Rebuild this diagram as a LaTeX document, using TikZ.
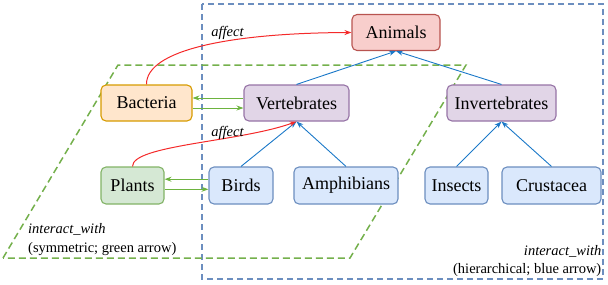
\documentclass[tikz,border=0pt]{standalone}
\usepackage{fontspec}
\setmainfont{Liberation Serif}
\usetikzlibrary{arrows.meta}
\definecolor{redfill}{HTML}{F8CECC}\definecolor{redline}{HTML}{B85450}
\definecolor{orfill}{HTML}{FFE6CC}\definecolor{orline}{HTML}{D79B00}
\definecolor{pufill}{HTML}{E1D5E7}\definecolor{puline}{HTML}{9673A6}
\definecolor{grfill}{HTML}{D5E8D4}\definecolor{grline}{HTML}{82B366}
\definecolor{blfill}{HTML}{DAE8FC}\definecolor{blline}{HTML}{6C8EBF}
\definecolor{garr}{HTML}{6DB33F}\definecolor{barr}{HTML}{1A78C8}\definecolor{rarr}{HTML}{F42A2A}
\definecolor{gdash}{HTML}{74B04C}
\tikzset{
  box/.style={rounded corners=5pt,line width=1.1pt,inner sep=0pt,minimum height=36pt,font=\fontsize{18}{20}\selectfont},
  redbox/.style={box,fill=redfill,draw=redline},
  orbox/.style={box,fill=orfill,draw=orline},
  pubox/.style={box,fill=pufill,draw=puline},
  grbox/.style={box,fill=grfill,draw=grline},
  blbox/.style={box,fill=blfill,draw=blline},
  tip/.style={-{Stealth[length=7pt,width=5pt]}},
  garrow/.style={tip,draw=garr,line width=0.9pt},
  barrow/.style={tip,draw=barr,line width=0.9pt},
  rarrow/.style={tip,draw=rarr,line width=1pt},
  lab/.style={inner sep=0pt,font=\fontsize{14.5}{16}\selectfont},
  ilab/.style={lab,font=\fontsize{14.5}{16}\selectfont\itshape},
}
\begin{document}
\begin{tikzpicture}[x=1pt,y=-1pt]
\useasboundingbox (0,0) rectangle (608,284);
% regions
\draw[blline,line width=1.5pt,dash pattern=on 6pt off 4pt] (202,4) rectangle (603,279);
\draw[gdash,line width=1.5pt,dash pattern=on 7pt off 4pt] (3,258) -- (118,65) -- (466,65) -- (350,258) -- cycle;
% nodes
\node[redbox,minimum width=88pt] (ani) at (396,32.5) {Animals};
\node[orbox,minimum width=91pt] (bac) at (146.5,103) {Bacteria};
\node[pubox,minimum width=105pt] (ver) at (296.5,103) {Vertebrates};
\node[pubox,minimum width=109pt] (inv) at (501.5,103) {Invertebrates};
\node[grbox,minimum width=63pt,minimum height=37pt] (pla) at (132.5,185.5) {Plants};
\node[blbox,minimum width=64pt,minimum height=37pt] (bir) at (241,185.5) {Birds};
\node[blbox,minimum width=104pt,minimum height=37pt] (amp) at (346,185.5) {Amphibians};
\node[blbox,minimum width=63pt,minimum height=37pt] (ins) at (456.5,185.5) {Insects};
\node[blbox,minimum width=99pt,minimum height=37pt] (cru) at (551.5,185.5) {Crustacea};
% hierarchical arrows
\draw[barrow] (ver.north) -- (ani.south);
\draw[barrow] (inv.north) -- (ani.south);
\draw[barrow] (bir.north) -- (ver.south);
\draw[barrow] (amp.north) -- (ver.south);
\draw[barrow] (ins.north) -- (inv.south);
\draw[barrow] (cru.north) -- (inv.south);
% symmetric arrows
\draw[garrow] ([yshift=5pt]ver.west) -- ([yshift=5pt]bac.east);
\draw[garrow] ([yshift=-5pt]bac.east) -- ([yshift=-5pt]ver.west);
\draw[garrow] ([yshift=6.3pt]bir.west) -- ([yshift=6.3pt]pla.east);
\draw[garrow] ([yshift=-3.8pt]pla.east) -- ([yshift=-3.8pt]bir.west);
% affect arrows
\draw[rarrow] (bac.north) .. controls (146,50) and (230,33) .. (ani.west);
\draw[rarrow] (pla.north) .. controls (132,145) and (240,142) .. (ver.south);
\node[ilab] (a1) at (227.5,33) {affect};
\node[ilab] (a2) at (227.5,133) {affect};
% legends
\node[ilab,anchor=west] (l1) at (28,229) {interact\_with};
\node[lab,anchor=west] (l2) at (28,249) {(symmetric; green arrow)};
\node[ilab,anchor=east] (r1) at (601.5,251) {interact\_with};
\node[lab,anchor=east] (r2) at (601.5,270) {(hierarchical; blue arrow)};
\end{tikzpicture}
\end{document}
